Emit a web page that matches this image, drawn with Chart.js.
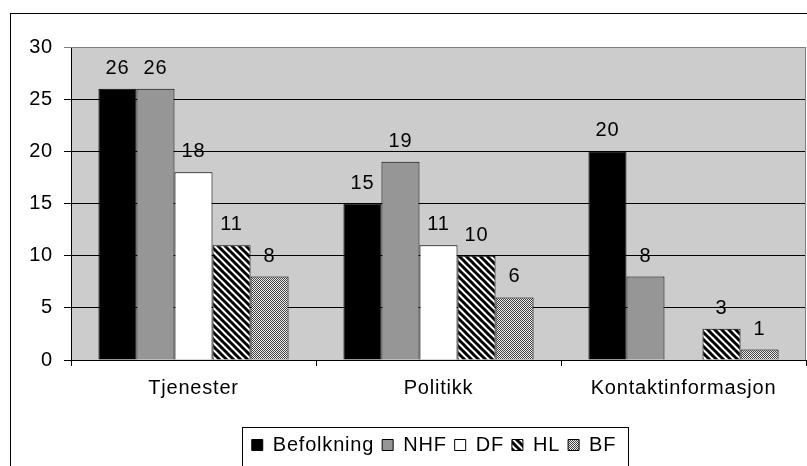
<!DOCTYPE html>
<html>
<head>
<meta charset="utf-8">
<script src="https://cdn.jsdelivr.net/npm/chart.js@4.4.1/dist/chart.umd.min.js"></script>
<style>
    html, body { margin: 0; padding: 0; background: #fff; overflow: hidden; }
    canvas { display: block; }
</style>
</head>
<body>
<canvas id="chart" width="807" height="480"></canvas>
<script>
// Data
const categories = ['Tjenester', 'Politikk', 'Kontaktinformasjon'];
const befolkning = [26, 15, 20];
const nhf = [26, 19, 8];
const df = [18, 11, 0];
const hl = [11, 10, 3];
const bf = [8, 6, 1];
const yTicks = [0, 5, 10, 15, 20, 25, 30];

const FONT = "'Liberation Sans', Arial, sans-serif";
const SPACING = '0.8px';

// Diagonal stripe pattern (HL)
function stripePattern() {
    const c = document.createElement('canvas');
    c.width = 7; c.height = 7;
    const g = c.getContext('2d');
    g.fillStyle = '#fff';
    g.fillRect(0, 0, 7, 7);
    g.strokeStyle = '#000';
    g.lineWidth = 3;
    [-7, 0, 7].forEach(k => {
        g.beginPath();
        g.moveTo(k - 1, -1);
        g.lineTo(k + 8, 8);
        g.stroke();
    });
    return g.createPattern(c, 'repeat');
}

// Fine checker pattern (BF)
function dotPattern() {
    const c = document.createElement('canvas');
    c.width = 2; c.height = 2;
    const g = c.getContext('2d');
    g.fillStyle = '#f0f0f0';
    g.fillRect(0, 0, 2, 2);
    g.fillStyle = '#404040';
    g.fillRect(0, 0, 1, 1);
    g.fillRect(1, 1, 1, 1);
    return g.createPattern(c, 'repeat');
}

const chartFrame = {
    id: 'chartFrame',
    beforeLayout(chart) {
        chart.ctx.letterSpacing = SPACING;
    },
    afterLayout(chart) {
        // legend sits a bit right of centre in the original
        chart.legend.left += 31;
        chart.legend.right += 31;
    },
    beforeDraw(chart) {
        const { ctx, chartArea: a } = chart;
        ctx.letterSpacing = SPACING;
        ctx.save();
        ctx.fillStyle = '#cccccc';
        ctx.fillRect(a.left, a.top, a.right - a.left, a.bottom - a.top);
        ctx.strokeStyle = '#000';
        ctx.lineWidth = 1;
        ctx.strokeRect(10.5, 13.5, 900, 600);
        ctx.restore();
    },
    beforeDatasetsDraw(chart) {
        const { ctx, chartArea: a } = chart;
        ctx.save();
        ctx.strokeStyle = '#808080';
        ctx.lineWidth = 1;
        ctx.beginPath();
        ctx.moveTo(a.left, a.top + 0.5);
        ctx.lineTo(a.right - 0.5, a.top + 0.5);
        ctx.lineTo(a.right - 0.5, a.bottom);
        ctx.stroke();
        ctx.restore();
    },
    afterDraw(chart) {
        // frame round the legend
        const boxes = chart.legend.legendHitBoxes;
        if (!boxes || !boxes.length) return;
        const left = Math.min(...boxes.map(b => b.left)) - 10;
        const right = Math.max(...boxes.map(b => b.left + b.width)) + 12;
        const top = chart.legend.top;
        const ctx = chart.ctx;
        ctx.save();
        ctx.strokeStyle = '#000';
        ctx.lineWidth = 1;
        ctx.strokeRect(Math.round(left) + 0.5, Math.round(top) + 0.5, Math.round(right - left), 200);
        ctx.restore();
    }
};

const valueLabels = {
    id: 'valueLabels',
    afterDatasetsDraw(chart) {
        const ctx = chart.ctx;
        ctx.save();
        ctx.font = '20px ' + FONT;
        ctx.fillStyle = '#000';
        ctx.textAlign = 'center';
        ctx.textBaseline = 'alphabetic';
        chart.data.datasets.forEach((ds, i) => {
            chart.getDatasetMeta(i).data.forEach((bar, j) => {
                const v = ds.data[j];
                if (!v) return;
                ctx.fillText(String(v), bar.x, bar.y - 15);
            });
        });
        ctx.restore();
    }
};

const ctx = document.getElementById('chart').getContext('2d');

const common = { borderColor: '#000', borderWidth: 1, categoryPercentage: 0.776, barPercentage: 1.0 };

new Chart(ctx, {
    type: 'bar',
    data: {
        labels: categories,
        datasets: [
            { label: 'Befolkning', data: befolkning, backgroundColor: '#000000', ...common },
            { label: 'NHF', data: nhf, backgroundColor: '#969696', ...common },
            { label: 'DF', data: df, backgroundColor: '#ffffff', ...common },
            { label: 'HL', data: hl, backgroundColor: stripePattern(), ...common },
            { label: 'BF', data: bf, backgroundColor: dotPattern(), ...common }
        ]
    },
    options: {
        responsive: false,
        animation: false,
        devicePixelRatio: 1,
        layout: { padding: { top: 47, left: 0, right: 1, bottom: 15 } },
        plugins: {
            legend: {
                position: 'bottom',
                labels: {
                    boxWidth: 11,
                    boxHeight: 11,
                    padding: 8,
                    color: '#000',
                    font: { family: FONT, size: 20 }
                }
            },
            tooltip: { enabled: false }
        },
        scales: {
            x: {
                grid: { drawOnChartArea: false, color: '#000', tickLength: 6, offset: true },
                border: { display: true, color: '#000' },
                ticks: { color: '#000', padding: 10, font: { family: FONT, size: 20 } },
                afterFit(s) { s.height = 67; }
            },
            y: {
                min: 0,
                max: 30,
                afterBuildTicks(s) { s.ticks = yTicks.map(v => ({ value: v })); },
                grid: {
                    color: c => (c.tick && c.tick.value === 30) ? '#808080' : '#000',
                    tickLength: 7
                },
                border: { display: true, color: '#000' },
                ticks: { color: '#000', padding: 11, font: { family: FONT, size: 20 } },
                afterFit(s) { s.width = 71; }
            }
        }
    },
    plugins: [chartFrame, valueLabels]
});
</script>
</body>
</html>
